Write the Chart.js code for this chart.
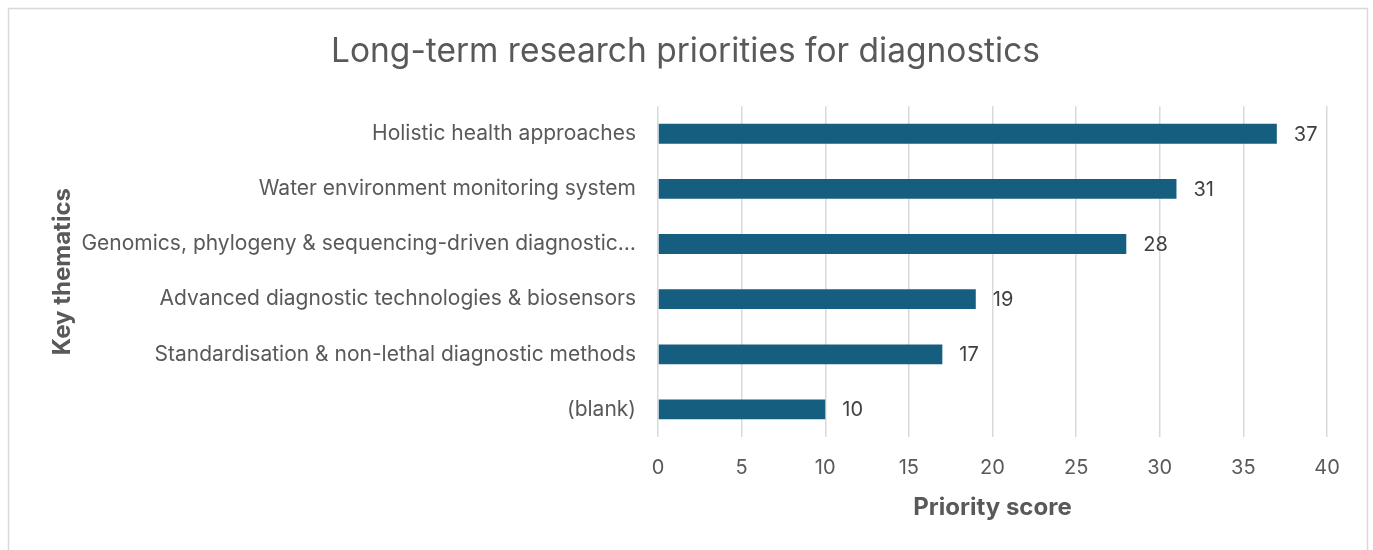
<!DOCTYPE html>
<html>
<head>
<meta charset="utf-8">
<script src="https://cdn.jsdelivr.net/npm/chart.js@4/dist/chart.umd.min.js"></script>
<style>
  body { margin: 0; background: #fff; }
  canvas { display: block; }
</style>
</head>
<body>
<canvas id="myChart" width="1373" height="550"></canvas>
<script>
var THEMATICS = [
    'Holistic health approaches',
    'Water environment monitoring system',
    'Genomics, phylogeny & sequencing-driven diagnostic\u2026',
    'Advanced diagnostic technologies & biosensors',
    'Standardisation & non-lethal diagnostic methods',
    '(blank)'
];
var PRIORITY_SCORES = [37, 31, 28, 19, 17, 10];
var SCORE_TICKS = [0, 5, 10, 15, 20, 25, 30, 35, 40];

(function () {
    var TEXT_COLOR = '#595959',
        GRID_COLOR = '#d9d9d9',
        BAR_COLOR = '#165e7f',
        FONT = 'Inter, "Open Sans", sans-serif';

    // grey frame round the whole chart, like the spreadsheet chart box
    var frame = {
        id: 'frame',
        beforeDraw: function (chart) {
            var ctx = chart.ctx;
            ctx.save();
            ctx.fillStyle = '#fff';
            ctx.fillRect(0, 0, chart.width, chart.height);
            ctx.strokeStyle = '#d9d9d9';
            ctx.lineWidth = 1.5;
            ctx.strokeRect(8.5, 8.5, chart.width - 14, chart.height + 10);
            ctx.restore();
        }
    };

    // value labels at the end of every bar
    var valueLabels = {
        id: 'valueLabels',
        afterDatasetsDraw: function (chart) {
            var ctx = chart.ctx,
                meta = chart.getDatasetMeta(0);
            ctx.save();
            ctx.font = '20px ' + FONT;
            ctx.fillStyle = '#404040';
            ctx.textAlign = 'left';
            ctx.textBaseline = 'middle';
            meta.data.forEach(function (bar, i) {
                ctx.fillText(String(PRIORITY_SCORES[i]), bar.x + 17, bar.y + 1);
            });
            ctx.restore();
        }
    };

    new Chart(document.getElementById('myChart').getContext('2d'), {
        type: 'bar',
        data: {
            labels: THEMATICS,
            datasets: [{
                data: PRIORITY_SCORES,
                backgroundColor: BAR_COLOR,
                barPercentage: 0.9,
                categoryPercentage: 0.4
            }]
        },
        options: {
            indexAxis: 'y',
            responsive: false,
            animation: false,
            layout: { padding: { left: 44, right: 46, top: 14, bottom: 24 } },
            plugins: {
                legend: { display: false },
                tooltip: { enabled: false },
                title: {
                    display: true,
                    text: 'Long-term research priorities for diagnostics',
                    color: TEXT_COLOR,
                    font: { family: FONT, size: 33.5, weight: 'normal' },
                    padding: { top: 18, bottom: 34 }
                }
            },
            scales: {
                x: {
                    min: 0,
                    max: 40,
                    afterBuildTicks: function (scale) {
                        scale.ticks = SCORE_TICKS.map(function (v) { return { value: v }; });
                    },
                    afterFit: function (scale) { scale.height = 89; },
                    grid: { color: GRID_COLOR, lineWidth: 1.5, drawTicks: false },
                    border: { display: false },
                    ticks: { color: TEXT_COLOR, padding: 19, font: { family: FONT, size: 20 } },
                    title: {
                        display: true,
                        text: 'Priority score',
                        color: TEXT_COLOR,
                        font: { family: FONT, size: 24, weight: 'bold' },
                        padding: { top: 4, bottom: 4 }
                    }
                },
                y: {
                    afterFit: function (scale) { scale.width = 614; },
                    grid: { display: false, drawTicks: false },
                    border: { display: false },
                    ticks: { color: TEXT_COLOR, padding: 22, font: { family: FONT, size: 21 } },
                    title: {
                        display: true,
                        text: 'Key thematics',
                        color: TEXT_COLOR,
                        font: { family: FONT, size: 24, weight: 'bold' },
                        padding: { top: 4, bottom: 4 }
                    }
                }
            }
        },
        plugins: [frame, valueLabels]
    });
})();
</script>
</body>
</html>
